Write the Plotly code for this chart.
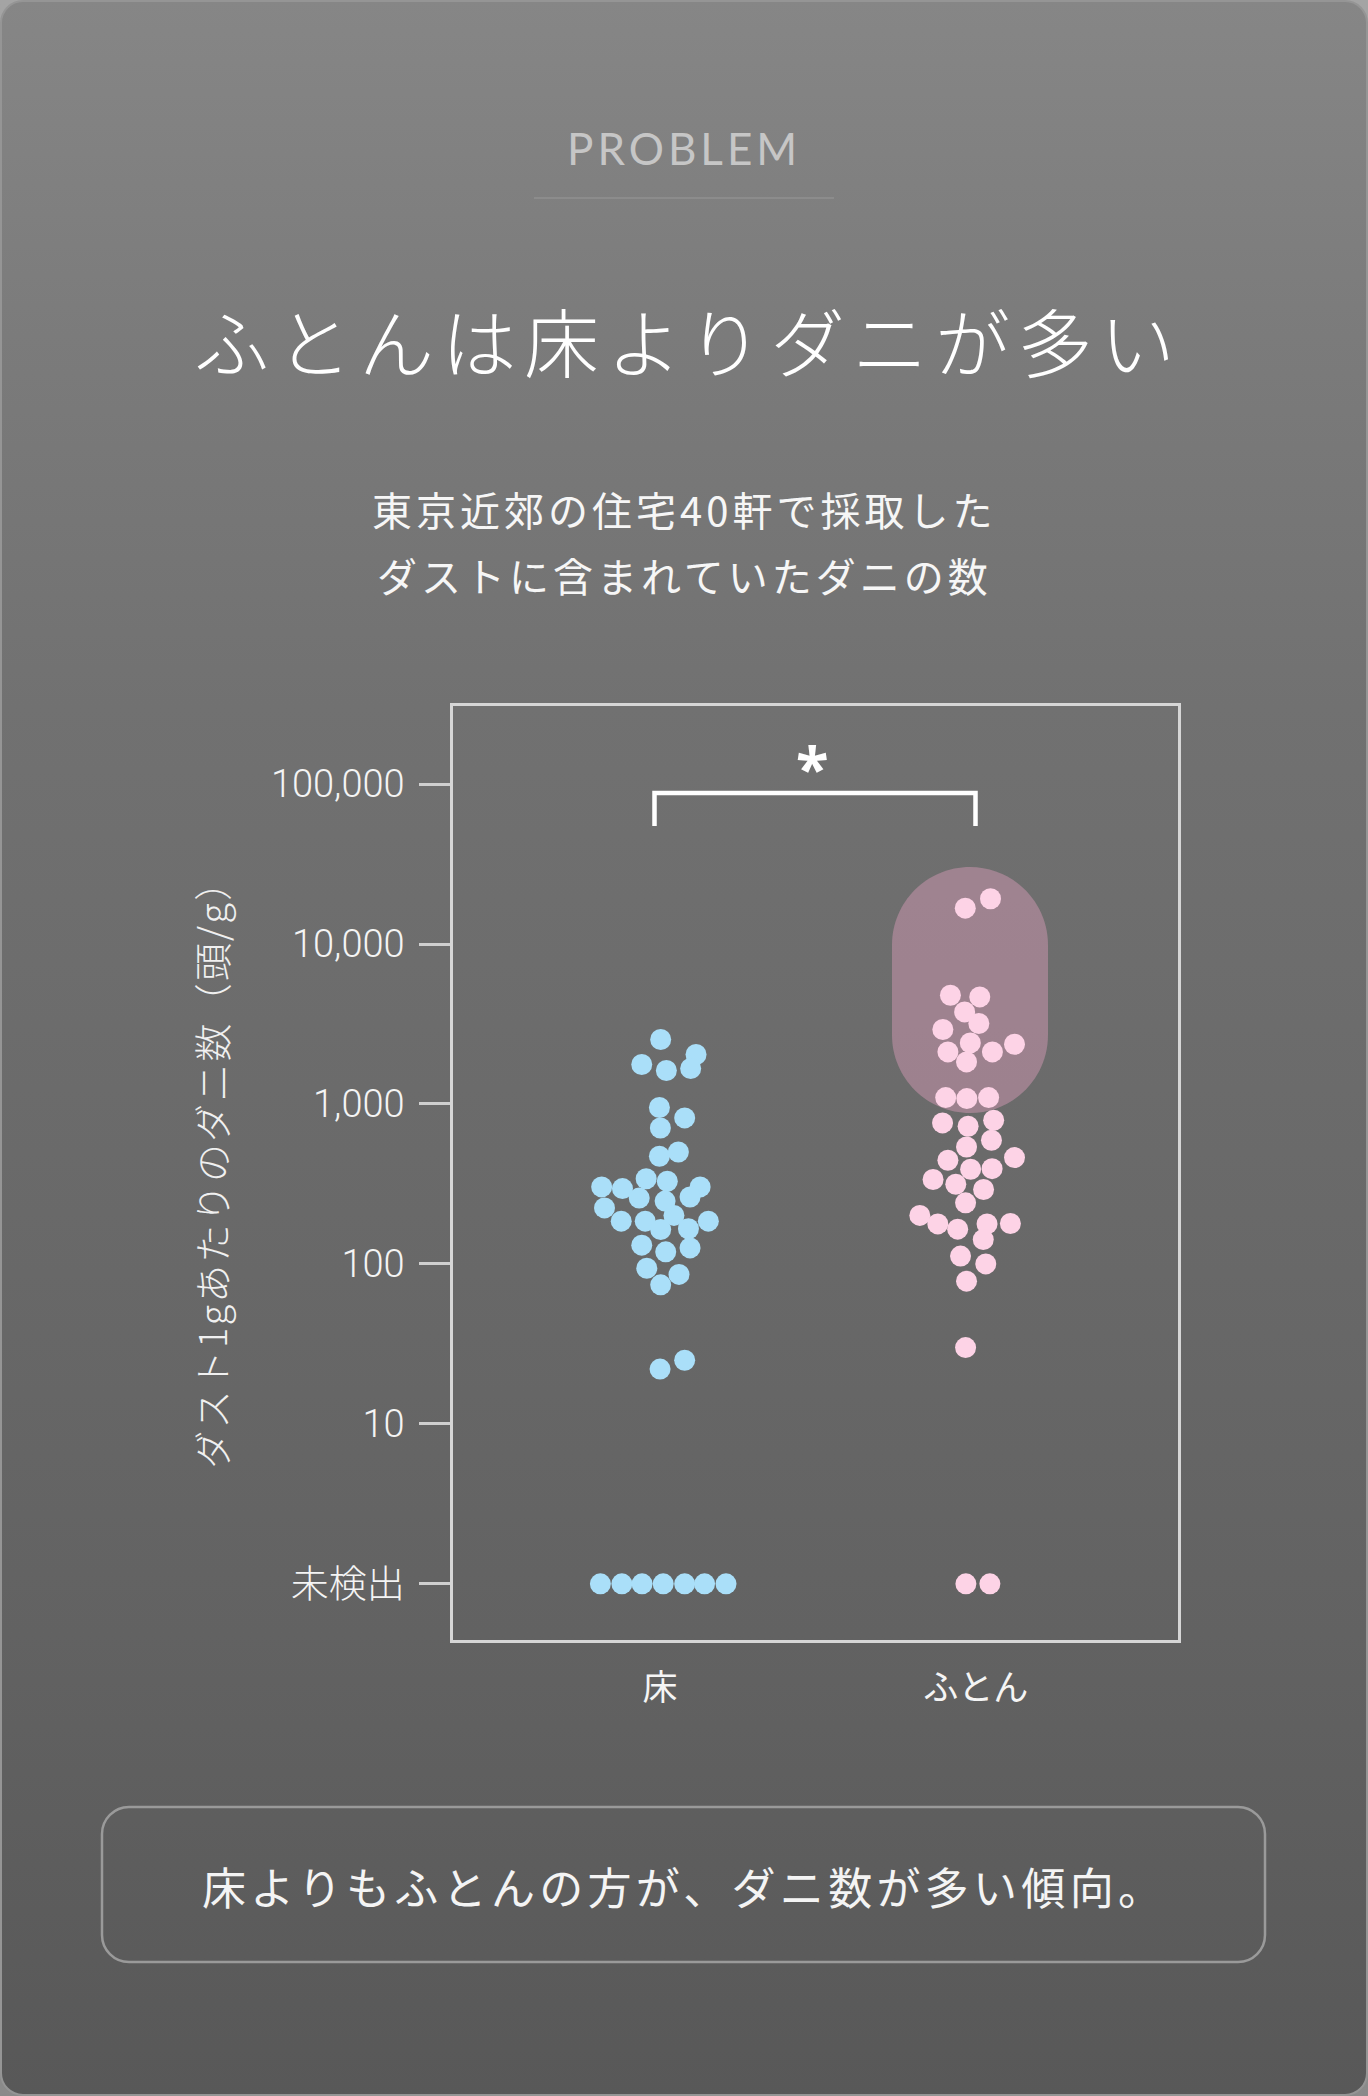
import base64
import json

import plotly.graph_objects as go

# ---- data (mites per gram of dust, 40 homes) ----
CATEGORIES = ["床", "ふとん"]

# 0 = not detected (drawn on the 未検出 row)
floor_counts = [2530, 1765, 1619, 2038, 1666, 950, 818, 708, 501, 471,
                341, 329, 303, 303, 296, 262, 258, 247, 224, 201,
                185, 185, 185, 166, 164, 131, 126, 119, 94, 86,
                74, 25, 22, 0, 0, 0, 0, 0, 0, 0]
# horizontal beeswarm offset of each dot, in category widths
floor_offsets = [0.002, -0.058, 0.020, 0.114, 0.097, -0.002, 0.078, 0.001, 0.058, -0.002,
                 -0.044, 0.023, -0.185, 0.127, -0.119, 0.095, -0.066, 0.016, -0.176, 0.044,
                 -0.123, -0.047, 0.153, 0.090, 0.002, -0.058, 0.095, 0.018, -0.042, 0.060,
                 0.002, 0.078, 0.000, -0.189, -0.121, -0.057, 0.010, 0.078, 0.141, 0.209]

futon_counts = [19190, 16750, 4786, 4670, 3764, 3185, 2923, 2409, 2364, 2115,
                2115, 1832, 1097, 1081, 1097, 791, 761, 726, 593, 538,
                462, 445, 394, 391, 337, 315, 292, 241, 201, 179,
                178, 178, 165, 142, 112, 100, 78, 30, 0, 0]
futon_offsets = [0.047, -0.033, -0.080, 0.013, -0.035, 0.010, -0.104, -0.017, 0.123, -0.088,
                 0.053, -0.029, -0.095, -0.028, 0.041, 0.057, -0.105, -0.024, 0.050, -0.029,
                 0.123, -0.088, 0.052, -0.016, -0.135, -0.063, 0.025, -0.032, -0.177, 0.110,
                 -0.120, 0.036, -0.057, 0.024, -0.048, 0.032, -0.029, -0.032, -0.031, 0.045]

Y_TICK_VALUES = [1, 10, 100, 1000, 10000, 100000]
Y_TICK_LABELS = ["未検出", "10", "100", "1,000", "10,000", "100,000"]
NOT_DETECTED = 1

# ---- page geometry (pixels) ----
FIG_W, FIG_H = 1368, 2096
M_L, M_R, M_T, M_B = 453, 190, 706, 456
PLOT_W = FIG_W - M_L - M_R
PLOT_H = FIG_H - M_T - M_B

BLUE = "#aadff9"
PINK = "#fdd3e6"
JP = "Noto Sans CJK JP"


def px(x):
    return (x - M_L) / PLOT_W


def py(y):
    return (FIG_H - M_B - y) / PLOT_H


def round_rect(x0, y0, x1, y1, r):
    # rounded rectangle as an svg path in paper coords
    k = 0.5523 * r
    pts = [
        ("M", [(x0 + r, y0)]),
        ("L", [(x1 - r, y0)]),
        ("C", [(x1 - r + k, y0), (x1, y0 + r - k), (x1, y0 + r)]),
        ("L", [(x1, y1 - r)]),
        ("C", [(x1, y1 - r + k), (x1 - r + k, y1), (x1 - r, y1)]),
        ("L", [(x0 + r, y1)]),
        ("C", [(x0 + r - k, y1), (x0, y1 - r + k), (x0, y1 - r)]),
        ("L", [(x0, y0 + r)]),
        ("C", [(x0, y0 + r - k), (x0 + r - k, y0), (x0 + r, y0)]),
    ]
    out = ""
    for cmd, coords in pts:
        out += cmd + " ".join("%.5f,%.5f" % (px(a), py(b)) for a, b in coords) + " "
    return out + "Z"


# background card with vertical gradient
bg_svg = """<svg xmlns='http://www.w3.org/2000/svg' width='1368' height='2096' viewBox='0 0 1368 2096'>
<defs>
<linearGradient id='o' x1='0' y1='0' x2='0' y2='1'>
<stop offset='0' stop-color='#a4a4a4'/><stop offset='1' stop-color='#8a8a8a'/></linearGradient>
<linearGradient id='g' x1='0' y1='0' x2='0' y2='1'>
<stop offset='0' stop-color='#868686'/>
<stop offset='0.16' stop-color='#7b7b7b'/>
<stop offset='0.337' stop-color='#717171'/>
<stop offset='0.55' stop-color='#6a6a6a'/>
<stop offset='0.78' stop-color='#626262'/>
<stop offset='1' stop-color='#585858'/>
</linearGradient></defs>
<rect x='0' y='0' width='1368' height='2096' fill='url(#o)'/>
<rect x='1' y='1' width='1366' height='2094' rx='22' ry='22' fill='url(#g)' stroke='#959595' stroke-width='2'/>
</svg>"""
bg_src = "data:image/svg+xml;base64," + base64.b64encode(bg_svg.encode("utf-8")).decode("ascii")

fig = go.Figure()

fig.add_trace(go.Scatter(
    x=[0 + o for o in floor_offsets],
    y=[c if c > 0 else NOT_DETECTED for c in floor_counts],
    mode="markers", name=CATEGORIES[0],
    marker=dict(size=21, color=BLUE, line=dict(width=0)),
))
fig.add_trace(go.Scatter(
    x=[1 + o for o in futon_offsets],
    y=[c if c > 0 else NOT_DETECTED for c in futon_counts],
    mode="markers", name=CATEGORIES[1],
    marker=dict(size=21, color=PINK, line=dict(width=0)),
))

shapes = [
    # line under PROBLEM
    dict(type="line", xref="paper", yref="paper", x0=px(534), x1=px(834), y0=py(198), y1=py(198),
         line=dict(color="#8c8c8c", width=2)),
    # highlight capsule behind the high futon values
    dict(type="path", xref="paper", yref="paper", path=round_rect(892, 867, 1048, 1113, 78),
         fillcolor="rgba(208,152,178,0.5)", line=dict(width=0), layer="below"),
    # significance bracket
    dict(type="path", xref="paper", yref="paper",
         path="M%.5f,%.5f L%.5f,%.5f L%.5f,%.5f L%.5f,%.5f" % (
             px(654.5), py(826), px(654.5), py(793), px(975.5), py(793), px(975.5), py(826)),
         line=dict(color="white", width=4.5)),
    # bottom message box
    dict(type="path", xref="paper", yref="paper", path=round_rect(102, 1807, 1265, 1962, 27),
         line=dict(color="#9a9a9a", width=2.5)),
]

annotations = [
    dict(text="PROBLEM", x=px(684), y=py(148), font=dict(family="Lato", size=44, color="#c6c6c6", weight=400)),
    dict(text="ふとんは床よりダニが多い", x=px(688), y=py(340),
         font=dict(family=JP, size=75, color="white", weight=300)),
    dict(text="東京近郊の住宅40軒で採取した", x=px(684), y=py(509),
         font=dict(family=JP, size=40, color="#f6f6f6")),
    dict(text="ダストに含まれていたダニの数", x=px(684), y=py(575),
         font=dict(family=JP, size=40, color="#f6f6f6")),
    dict(text="ダスト1gあたりのダニ数（頭/g）", x=px(210), y=py(1164), textangle=-90,
         font=dict(family=JP, size=38, color="#f0f0f0", weight=300)),
    dict(text="*", x=px(812), y=py(767), font=dict(family="Noto Sans", size=60, color="white", weight=700)),
    dict(text="床よりもふとんの方が、ダニ数が多い傾向。", x=px(684), y=py(1886),
         font=dict(family=JP, size=44, color="#f4f4f4")),
]
for a in annotations:
    a.update(xref="paper", yref="paper", showarrow=False, xanchor="center", yanchor="middle")

fig.update_layout(
    width=FIG_W, height=FIG_H,
    margin=dict(l=M_L, r=M_R, t=M_T, b=M_B, pad=0, autoexpand=False),
    paper_bgcolor="#6e6e6e", plot_bgcolor="rgba(0,0,0,0)",
    showlegend=False,
    shapes=shapes, annotations=annotations,
    images=[dict(source=bg_src, xref="paper", yref="paper", x=px(0), y=py(0),
                 sizex=FIG_W / PLOT_W, sizey=FIG_H / PLOT_H, xanchor="left", yanchor="top",
                 sizing="stretch", layer="below")],
)

fig.update_xaxes(
    range=[-0.656, 1.641], tickvals=[0, 1], ticktext=CATEGORIES,
    showgrid=False, zeroline=False, ticks="", ticklabelstandoff=15,
    tickfont=dict(family=JP, size=35, color="#f5f5f5"),
    showline=True, mirror=True, linecolor="#d6d6d6", linewidth=2.5,
)
fig.update_yaxes(
    type="log", range=[-0.351, 5.488], tickvals=Y_TICK_VALUES, ticktext=Y_TICK_LABELS,
    showgrid=False, zeroline=False, ticks="outside", ticklen=31, tickwidth=3, tickcolor="#cfcfcf",
    ticklabelstandoff=7,
    tickfont=dict(family="Roboto, " + JP, size=38, color="#f4f4f4", weight=300),
    showline=True, mirror=True, linecolor="#d6d6d6", linewidth=2.5,
)

# letter spacing per annotation (plotly has no letter-spacing option)
spacing = {0: 4, 1: 7.5, 2: 4, 3: 4, 4: 2.2, 6: 4.3}
post = """
document.body.style.margin = '0';
var gd = document.getElementById('{plot_id}');
var sp = %s;
gd.querySelectorAll('g.annotation').forEach(function(g) {
  var i = g.getAttribute('data-index');
  if (sp[i]) {
    g.querySelectorAll('text').forEach(function(t) { t.style.letterSpacing = sp[i] + 'px'; });
  }
});
""" % json.dumps({str(k): v for k, v in spacing.items()})

fig.write_html("out.html", post_script=post, config={"displayModeBar": False})
